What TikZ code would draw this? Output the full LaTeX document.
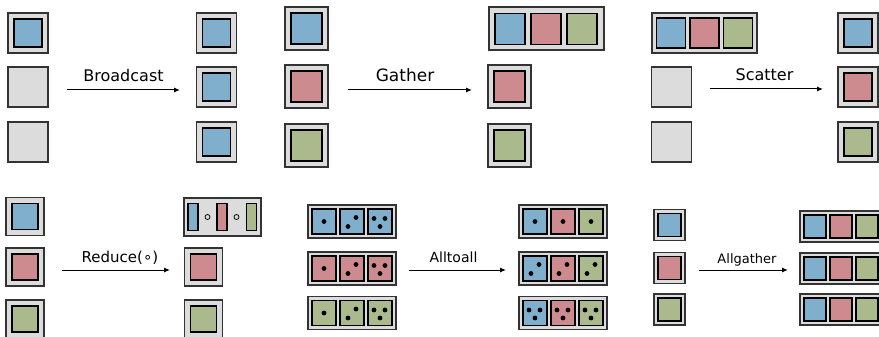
\documentclass[tikz,border=0pt]{standalone}
\usepackage{fontspec}
\setmainfont{DejaVu Sans}
\usepackage{xcolor}
\usetikzlibrary{arrows.meta}

\definecolor{procgray}{RGB}{220,220,220}
\definecolor{cblue}{RGB}{127,175,205}
\definecolor{cred}{RGB}{205,138,143}
\definecolor{cgreen}{RGB}{170,186,140}

% die-face pips around the centre of a cell
\newcommand\pips[2]{%
  \ifcase#2\or
    \fill (#1) circle (2.4);
  \or
    \fill (#1) ++(-4,5) circle (2.4);
    \fill (#1) ++(4,-4) circle (2.4);
  \or
    \fill (#1) ++(-6,-3) circle (2.4);
    \fill (#1) ++(5,-3) circle (2.4);
    \fill (#1) ++(0,5) circle (2.4);
  \fi}

\begin{document}
\begin{tikzpicture}[
    x=1pt, y=-1pt,
    proc/.style={rectangle, draw=black!80, fill=procgray, line width=1.2pt, inner sep=0pt},
    cell/.style={rectangle, draw=black, fill=#1, line width=1.2pt, inner sep=0pt},
    arrow/.style={-{Latex[length=6pt, width=5pt]}, line width=1pt},
    lbl/.style={anchor=base, inner sep=0pt, yshift=8pt, font=\fontsize{16}{19}\selectfont}
]
\useasboundingbox (0,0) rectangle (879,337);

% Broadcast
\node[proc, minimum size=40pt] (bc-in1) at (28,33) {};
\node[cell=cblue, minimum size=28pt] (bc-in1-d) at (bc-in1) {};
\node[proc, minimum size=40pt] (bc-in2) at (28,87) {};
\node[proc, minimum size=40pt] (bc-in3) at (28,142) {};
\foreach \y [count=\i] in {33,87,142} {
  \node[proc, minimum size=40pt] (bc-out\i) at (216.5,\y) {};
  \node[cell=cblue, minimum size=28pt] (bc-out\i-d) at (bc-out\i) {};
}
\coordinate (bc-from) at (67,90);
\coordinate (bc-to) at (180,90);
\draw[arrow] (bc-from) -- node[lbl] {Broadcast} (bc-to);

% Gather
\foreach \y/\c [count=\i] in {28.5/cblue,86.5/cred,145.5/cgreen} {
  \node[proc, minimum size=43pt] (ga-in\i) at (306.5,\y) {};
  \node[cell=\c, minimum size=31pt] (ga-in\i-d) at (ga-in\i) {};
}
\node[proc, minimum width=115pt, minimum height=43pt] (ga-out1) at (546.5,28.5) {};
\foreach \x/\c [count=\k] in {510/cblue,546/cred,582/cgreen}
  \node[cell=\c, minimum width=30pt, minimum height=31pt] (ga-out1-\k) at (\x,29) {};
\foreach \y/\c [count=\i from 2] in {86.5/cred,145.5/cgreen} {
  \node[proc, minimum size=43pt] (ga-out\i) at (509.5,\y) {};
  \node[cell=\c, minimum size=31pt] (ga-out\i-d) at (ga-out\i) {};
}
\coordinate (ga-from) at (348,90);
\coordinate (ga-to) at (472,90);
\draw[arrow] (ga-from) -- node[lbl, xshift=-5pt, font=\fontsize{17}{20}\selectfont] {Gather} (ga-to);

% Scatter
\node[proc, minimum width=105pt, minimum height=40pt] (sc-in1) at (704.5,33) {};
\foreach \x/\c [count=\k] in {671/cblue,704.5/cred,738/cgreen}
  \node[cell=\c, minimum width=29pt, minimum height=30pt] (sc-in1-\k) at (\x,33) {};
\node[proc, minimum size=40pt] (sc-in2) at (671.5,87) {};
\node[proc, minimum size=40pt] (sc-in3) at (671.5,142) {};
\foreach \y/\c [count=\i] in {33/cblue,87/cred,142/cgreen} {
  \node[proc, minimum size=40pt] (sc-out\i) at (858,\y) {};
  \node[cell=\c, minimum size=28pt] (sc-out\i-d) at (sc-out\i) {};
}
\coordinate (sc-from) at (710,89);
\coordinate (sc-to) at (823,89);
\draw[arrow] (sc-from) -- node[lbl, xshift=-2pt] {Scatter} (sc-to);

% Reduce
\foreach \y/\c [count=\i] in {216.5/cblue,267/cred,319/cgreen} {
  \node[proc, minimum size=38pt] (re-in\i) at (25,\y) {};
  \node[cell=\c, minimum size=26pt] (re-in\i-d) at (re-in\i) {};
}
\node[proc, minimum width=77pt, minimum height=38pt] (re-out1) at (222.5,217) {};
\foreach \x/\c [count=\k] in {193/cblue,222/cred,251.5/cgreen}
  \node[cell=\c, minimum width=10pt, minimum height=27pt] (re-out1-\k) at (\x,217) {};
\foreach \x [count=\k] in {207.5,236.5}
  \node[circle, draw, line width=0.8pt, inner sep=0pt, minimum size=5pt] (re-op\k) at (\x,217) {};
\foreach \y/\c [count=\i from 2] in {267/cred,319/cgreen} {
  \node[proc, minimum size=38pt] (re-out\i) at (203.5,\y) {};
  \node[cell=\c, minimum size=26pt] (re-out\i-d) at (re-out\i) {};
}
\coordinate (re-from) at (62,270);
\coordinate (re-to) at (170,270);
\draw[arrow] (re-from) -- node[lbl, xshift=4pt, font=\fontsize{15}{18}\selectfont] {Reduce(∘)} (re-to);

% Alltoall
\foreach \y/\c [count=\r] in {221.5/cblue,268.5/cred,313/cgreen} {
  \node[proc, minimum width=88pt, minimum height=33pt] (aa-in\r) at (352,\y) {};
  \foreach \dx [count=\k] in {-28,0,28} {
    \node[cell=\c, minimum width=24pt, minimum height=25pt] (aa-in\r-\k) at (352+\dx,\y) {};
    \pips{aa-in\r-\k}{\k}
  }
}
\foreach \y [count=\r] in {221.5,268.5,313} {
  \node[proc, minimum width=88pt, minimum height=33pt] (aa-out\r) at (563,\y) {};
  \foreach \dx/\c [count=\k] in {-28/cblue,0/cred,28/cgreen} {
    \node[cell=\c, minimum width=24pt, minimum height=25pt] (aa-out\r-\k) at (563+\dx,\y) {};
    \pips{aa-out\r-\k}{\r}
  }
}
\coordinate (aa-from) at (409,270);
\coordinate (aa-to) at (506,270);
\draw[arrow] (aa-from) -- node[lbl, xshift=-4pt, font=\fontsize{14}{17}\selectfont] {Alltoall} (aa-to);

% Allgather
\foreach \y/\c [count=\i] in {225/cblue,268/cred,309.5/cgreen} {
  \node[proc, minimum size=31pt] (ag-in\i) at (669.5,\y) {};
  \node[cell=\c, minimum size=23pt] (ag-in\i-d) at (ag-in\i) {};
}
\foreach \y [count=\r] in {226.5,268.5,309.5} {
  \node[proc, minimum width=81pt, minimum height=31pt] (ag-out\r) at (840.5,\y) {};
  \foreach \x/\c [count=\k] in {815/cblue,841/cred,867/cgreen}
    \node[cell=\c, minimum width=22pt, minimum height=23pt] (ag-out\r-\k) at (\x,\y) {};
}
\coordinate (ag-from) at (699,270);
\coordinate (ag-to) at (788,270);
\draw[arrow] (ag-from) -- node[lbl, xshift=3.5pt, yshift=-1pt, font=\fontsize{13}{16}\selectfont] {Allgather} (ag-to);

\end{tikzpicture}
\end{document}
